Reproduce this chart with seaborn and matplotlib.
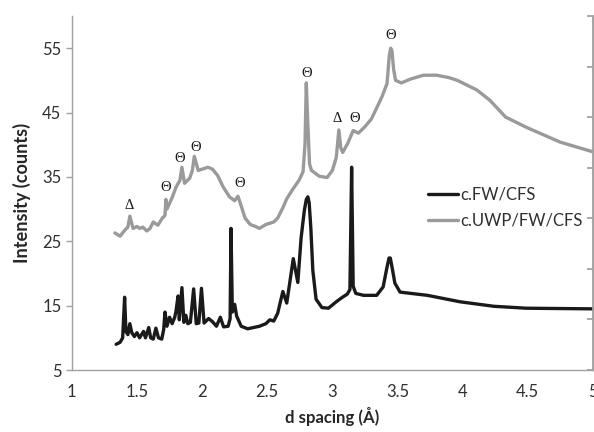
import matplotlib
matplotlib.use("Agg")
import matplotlib.pyplot as plt
import seaborn as sns
import pandas as pd

# ---- data ----
fw_x = [1.34, 1.37, 1.39, 1.405, 1.415, 1.43, 1.445, 1.46, 1.48, 1.50, 1.52, 1.55, 1.565, 1.59, 1.605,
        1.625, 1.645, 1.665, 1.69, 1.705, 1.715, 1.73, 1.75, 1.77, 1.79, 1.80, 1.815, 1.825, 1.845, 1.86,
        1.875, 1.89, 1.91, 1.935, 1.955, 1.975, 1.995, 2.015, 2.05, 2.08, 2.11, 2.14, 2.165, 2.20, 2.215,
        2.222, 2.232, 2.25, 2.265, 2.30, 2.35, 2.44, 2.49, 2.52, 2.55, 2.58, 2.62, 2.65, 2.70, 2.735,
        2.76, 2.785, 2.80, 2.812, 2.822, 2.835, 2.85, 2.875, 2.92, 2.97, 3.03, 3.07, 3.115, 3.135, 3.148,
        3.16, 3.18, 3.24, 3.34, 3.39, 3.42, 3.435, 3.445, 3.46, 3.48, 3.52, 3.73, 3.98, 4.24, 4.49, 5.0]
fw_y = [9.0, 9.3, 10.0, 16.3, 11.0, 10.5, 12.2, 10.8, 10.2, 10.8, 10.0, 11.0, 10.0, 11.6, 10.0,
        9.8, 11.5, 10.0, 9.8, 11.3, 14.0, 11.8, 13.2, 12.2, 13.2, 14.2, 16.5, 12.8, 17.8, 12.4,
        13.5, 12.2, 12.4, 17.6, 12.2, 12.3, 17.7, 12.3, 13.0, 12.5, 11.8, 13.2, 11.7, 11.8, 13.0,
        27.0, 14.0, 15.2, 13.4, 11.8, 11.4, 11.8, 12.2, 12.8, 12.6, 13.8, 17.2, 15.4, 22.3, 18.6,
        25.5, 29.8, 31.5, 31.9, 31.0, 27.0, 20.5, 16.0, 14.7, 14.6, 15.6, 16.2, 16.8, 17.5, 36.5,
        18.0, 16.9, 16.6, 16.6, 17.9, 21.0, 22.4, 22.4, 20.8, 18.5, 17.1, 16.6, 15.6, 14.9, 14.6, 14.5]

uwp_x = [1.33, 1.37, 1.41, 1.43, 1.445, 1.47, 1.50, 1.52, 1.545, 1.575, 1.60, 1.625, 1.66, 1.695,
         1.715, 1.722, 1.73, 1.77, 1.80, 1.83, 1.845, 1.865, 1.905, 1.925, 1.94, 1.97, 2.0, 2.045,
         2.08, 2.12, 2.16, 2.21, 2.25, 2.275, 2.30, 2.33, 2.37, 2.41, 2.44, 2.49, 2.55, 2.58, 2.62,
         2.65, 2.70, 2.745, 2.775, 2.79, 2.80, 2.81, 2.825, 2.84, 2.90, 2.96, 3.00, 3.03, 3.05, 3.065,
         3.08, 3.12, 3.16, 3.20, 3.25, 3.30, 3.38, 3.42, 3.437, 3.448, 3.458, 3.47, 3.485, 3.53, 3.60,
         3.70, 3.80, 3.90, 3.96, 4.11, 4.21, 4.33, 4.49, 4.75, 5.0]
uwp_y = [26.3, 25.8, 26.8, 27.2, 28.9, 27.0, 27.3, 27.0, 27.2, 26.6, 27.0, 28.0, 27.5, 28.6,
         29.0, 31.5, 30.0, 31.8, 33.4, 34.5, 36.5, 34.0, 34.8, 36.0, 38.2, 36.0, 36.2, 36.5,
         36.2, 35.2, 33.5, 31.9, 31.3, 32.0, 30.5, 28.6, 27.6, 27.3, 27.0, 27.6, 28.0, 28.6, 30.2,
         31.6, 33.2, 34.5, 35.8, 40.0, 49.6, 44.0, 37.0, 36.0, 35.1, 34.9, 36.0, 38.0, 42.3, 39.5,
         38.8, 40.3, 42.2, 41.8, 42.8, 44.0, 47.4, 49.5, 53.8, 55.0, 54.6, 51.8, 50.0, 49.6, 50.2,
         50.8, 50.8, 50.4, 50.0, 48.5, 46.9, 44.3, 42.7, 40.4, 38.9]

labels = ["c.FW/CFS", "c.UWP/FW/CFS"]
x_ticks = [1, 1.5, 2, 2.5, 3, 3.5, 4, 4.5, 5]
x_ticklabels = ["1", "1.5", "2", "2.5", "3", "3.5", "4", "4.5", "5"]
y_ticks = [5, 15, 25, 35, 45, 55]

marker_text = ["Δ", "Θ", "Θ", "Θ", "Θ", "Θ", "Δ", "Θ", "Θ"]
marker_x = [1.44, 1.72, 1.83, 1.95, 2.29, 2.80, 3.04, 3.17, 3.45]
marker_y = [30.6, 33.4, 37.9, 39.6, 33.9, 51.1, 44.1, 44.1, 57.0]

# ---- plot ----
sns.set_theme(style="white")
plt.rcParams['font.family'] = ['Lato', 'DejaVu Sans']

fig = plt.figure(figsize=(5.94, 4.32), dpi=100)
ax = fig.add_axes([0.121, 0.1435, 0.877, 0.8195])

df_fw = pd.DataFrame({"x": fw_x, "y": fw_y})
df_uwp = pd.DataFrame({"x": uwp_x, "y": uwp_y})
sns.lineplot(data=df_fw, x="x", y="y", ax=ax, color="#1a1a1a", lw=2.4,
             sort=False, estimator=None, label=labels[0])
sns.lineplot(data=df_uwp, x="x", y="y", ax=ax, color="#9a9a9a", lw=2.4,
             sort=False, estimator=None, label=labels[1])
for ln in ax.get_lines():
    ln.set_solid_joinstyle("round")
    ln.set_solid_capstyle("round")

for t, xx, yy in zip(marker_text, marker_x, marker_y):
    ax.text(xx, yy, t, ha="center", va="center", fontsize=10.5,
            family=["Liberation Serif", "DejaVu Serif"], color="#1a1a1a")

ax.set_xlim(1, 5)
ax.set_ylim(5, 60)
ax.set_xticks(x_ticks)
ax.set_xticklabels(x_ticklabels)
ax.set_yticks(y_ticks)
ax.tick_params(axis="both", labelsize=12, colors="#a0a0a0", labelcolor="#303030",
               length=4, width=1, direction="out")
ax.tick_params(axis="x", pad=6)
xl = ax.set_xlabel("d spacing (Å)", fontsize=11.5, fontweight="bold", color="#262626", labelpad=5)
yl = ax.set_ylabel("Intensity (counts)", fontsize=11.5, fontweight="bold", color="#262626", labelpad=8)

ax.spines["top"].set_visible(False)
for s in ["left", "bottom", "right"]:
    ax.spines[s].set_color("#a0a0a0")
    ax.spines[s].set_linewidth(1)

ax2 = ax.twinx()
ax2.set_ylim(0, 70)
ax2.set_yticks(range(0, 71, 10))
ax2.tick_params(axis="y", direction="in", length=4, colors="#a0a0a0", labelright=False)
ax2.spines["top"].set_visible(False)
ax2.spines["right"].set_color("#a0a0a0")
ax2.spines["left"].set_visible(False)
ax2.spines["bottom"].set_visible(False)
ax2.grid(False)

leg = ax.legend(loc="upper left", bbox_to_anchor=(0.655, 0.56), frameon=False,
                fontsize=12, handlelength=1.8, handletextpad=0.1, labelspacing=0.6)
for t in leg.get_texts():
    t.set_color("#303030")

# fit axis-label lengths to the reference
fig.canvas.draw()
r = fig.canvas.get_renderer()
bx = xl.get_window_extent(r)
xl.set_fontsize(xl.get_fontsize() * 95.0 / bx.width)
by = yl.get_window_extent(r)
yl.set_fontsize(yl.get_fontsize() * 140.0 / by.height)

fig.savefig("out.png", dpi=100)
